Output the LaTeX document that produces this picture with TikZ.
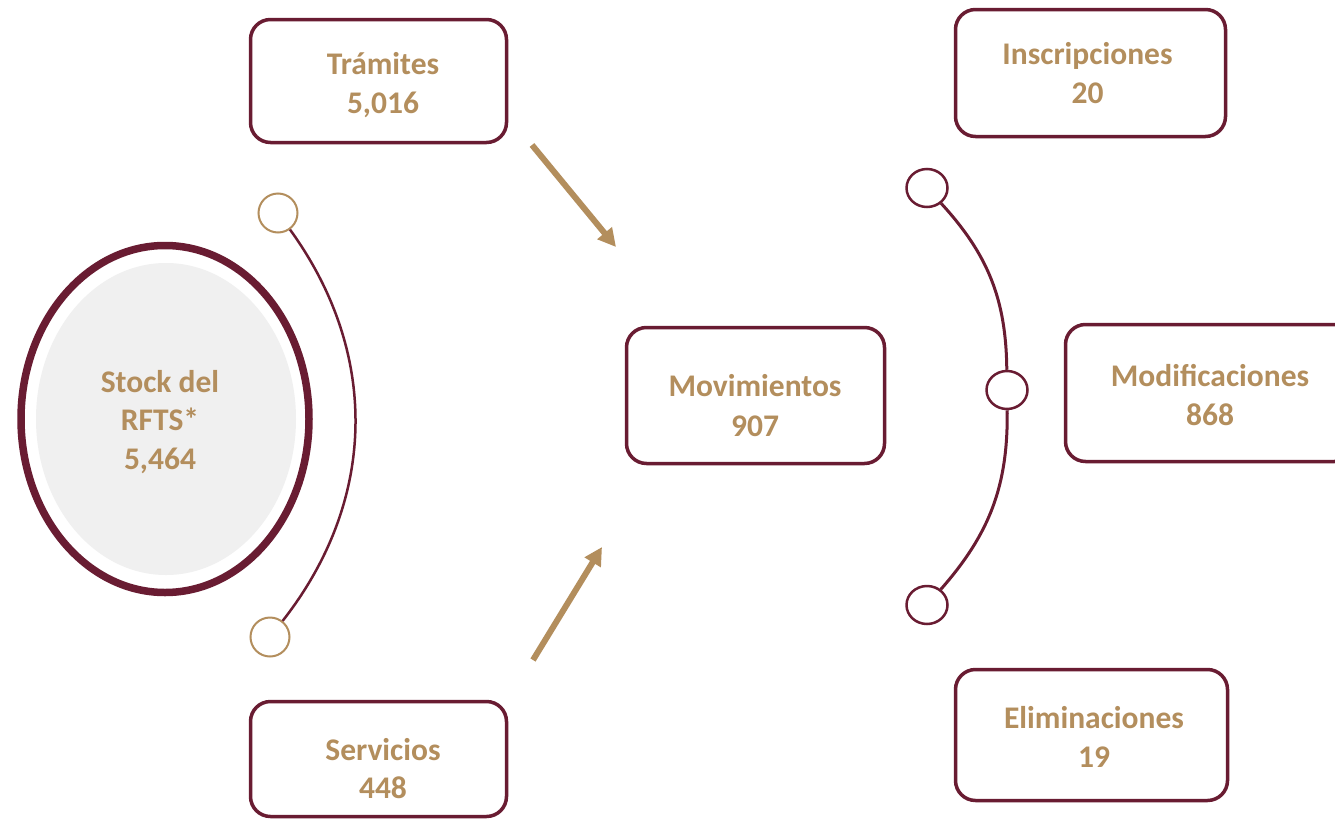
\documentclass[tikz,border=0pt]{standalone}
\usepackage{fontspec}
\setmainfont{Carlito}
\usetikzlibrary{arrows.meta,shapes.geometric}
\definecolor{guinda}{HTML}{691C32}
\definecolor{oro}{HTML}{B38E5D}
\definecolor{gris}{HTML}{F0F0F0}
\begin{document}
\begin{tikzpicture}[x=1pt,y=-1pt,
  box/.style={draw=guinda, line width=3.5pt, rounded corners=20pt, fill=white, rectangle, inner sep=0pt},
  lbl/.style={text=oro, font=\fontsize{31.5}{38.5}\selectfont\bfseries, align=center, inner sep=0pt},
  golddot/.style={circle, draw=oro, line width=2pt, fill=white, minimum size=39pt, inner sep=0pt},
  reddot/.style={ellipse, draw=guinda, line width=2.5pt, fill=white, minimum width=41pt, minimum height=38pt, inner sep=0pt},
  flow/.style={draw=oro, line width=6pt, -{Triangle[length=18pt,width=18pt]}},
  arcline/.style={draw=guinda}]
\useasboundingbox (0,0) rectangle (1335,819);
\clip (0,0) rectangle (1335,819);
\fill[white] (0,0) rectangle (1335,819);

% Stock ellipse
\node[ellipse, draw=guinda, line width=7.5pt, minimum width=288pt, minimum height=347pt, inner sep=0pt] (stockring) at (165,419) {};
\node[ellipse, fill=gris, minimum width=260pt, minimum height=312pt, inner sep=0pt] (stockfill) at (166,419) {};
\node[lbl] (stock) at (160,422) {Stock del\\RFTS*\\5,464};

% left arc
\node[golddot] (lt) at (278,213) {};
\node[golddot] (lb) at (270,637) {};
\draw[arcline, line width=2.5pt] (lt) to[bend left=37] (lb);

% boxes
\node[box, minimum width=256pt, minimum height=123pt] (tram) at (378.5,81) {};
\node[lbl] (tramt) at (383,85) {Trámites\\5,016};

\node[box, minimum width=256pt, minimum height=115pt] (serv) at (378.5,759) {};
\node[lbl] (servt) at (383,768.5) {Servicios\\448};

\node[box, minimum width=258pt, minimum height=136pt] (mov) at (755.5,395.5) {};
\node[lbl, font=\fontsize{31.5}{40}\selectfont\bfseries] (movt) at (755,406) {Movimientos\\907};

\node[box, minimum width=270pt, minimum height=127pt] (insc) at (1090.5,73) {};
\node[lbl] (insct) at (1087.5,73) {Inscripciones\\20};

\node[box, minimum width=289pt, minimum height=137pt] (modi) at (1210,393) {};
\node[lbl] (modit) at (1210,395) {Modificaciones\\868};

\node[box, minimum width=272pt, minimum height=131pt] (elim) at (1091.5,735) {};
\node[lbl] (elimt) at (1094,737) {Eliminaciones\\19};

% arrows
\coordinate (a1s) at (532,145);
\coordinate (a1e) at (616,247);
\coordinate (a2s) at (533,660);
\coordinate (a2e) at (602,547);
\draw[flow] (a1s) -- (a1e);
\draw[flow] (a2s) -- (a2e);

% right arc
\node[reddot] (rt) at (927,188) {};
\node[reddot] (rm) at (1007,390) {};
\node[reddot] (rb) at (927,605) {};
\draw[arcline, line width=3pt] (rt) to[bend left=21] (rm);
\draw[arcline, line width=3pt] (rm) to[bend left=21] (rb);
\end{tikzpicture}
\end{document}
